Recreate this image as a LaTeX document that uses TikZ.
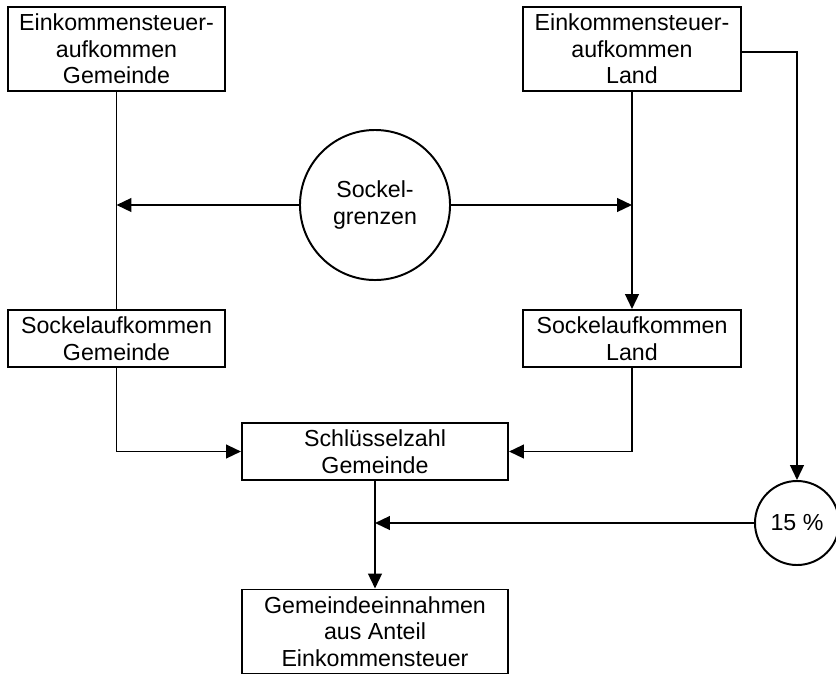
\documentclass[tikz,border=0pt]{standalone}
\usepackage{fontspec}
\setmainfont{Liberation Sans}
\usetikzlibrary{arrows.meta,positioning,calc}

\tikzset{
	kasten/.style={draw, rectangle, line width=1.4pt, align=center, inner sep=0pt,
		minimum width=5.425cm, font=\fontsize{16.5}{18.8}\selectfont},
	kreis/.style={draw, circle, line width=1.4pt, align=center, inner sep=0pt,
		font=\fontsize{16.5}{18.8}\selectfont},
	pfeil/.style={-{Triangle[length=0.37cm,width=0.34cm]}},
}

\begin{document}
\begin{tikzpicture}[x=0.025cm, y=-0.025cm, line width=1.4pt]
\useasboundingbox (0,0) rectangle (836,673);

% obere Reihe
\node[kasten, minimum height=2.1cm] (eG) at (116.5,49) {Einkommensteuer-\\aufkommen\\Gemeinde};
\node[kasten, minimum height=2.1cm] (eL) at (632,49) {Einkommensteuer-\\aufkommen\\Land};

\node[kreis, minimum size=3.75cm] (sockel) at (375,205) {Sockel-\\grenzen};

% mittlere Reihe
\node[kasten, minimum height=1.425cm] (sG) at (116.5,338.5) {Sockelaufkommen\\Gemeinde};
\node[kasten, minimum height=1.425cm] (sL) at (632,338.5) {Sockelaufkommen\\Land};

\node[kasten, minimum width=6.65cm, minimum height=1.425cm] (schl) at (375,451.5) {Schl\"usselzahl\\Gemeinde};
\node[kreis, minimum size=2.1cm] (proz) at (797,523) {15 \%};

\node[kasten, minimum width=6.65cm, minimum height=2.1cm] (gE) at (375,631.5) {Gemeindeeinnahmen\\aus Anteil\\Einkommensteuer};

% Verbindungen
\draw (eG) -- (sG);
\draw[pfeil] (sockel.west) -- (sockel.west -| eG.south);
\draw[pfeil] (sockel.east) -- (sockel.east -| eL.south);
\draw[pfeil] (eL) -- (sL);
\draw[pfeil] ([yshift=-0.075cm]eL.east) -| (proz.north);

\draw[pfeil] (sG.south) |- (schl.west);
\draw[pfeil] (sL.south) |- (schl.east);

\draw[pfeil] (schl) -- (gE);
\draw[pfeil] (proz.west) -- (proz.west -| schl.south);

\end{tikzpicture}
\end{document}
